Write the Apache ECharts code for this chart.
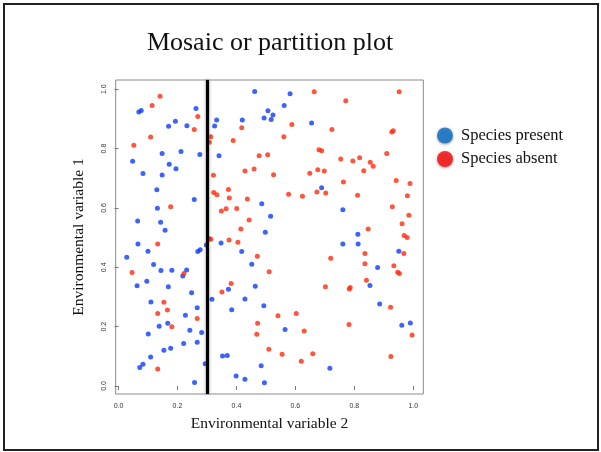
<!DOCTYPE html>
<html>
<head>
<meta charset="utf-8">
<script src="https://cdn.jsdelivr.net/npm/echarts@6/dist/echarts.min.js"></script>
<style>
html,body{margin:0;padding:0;background:#fff;}
#chart{width:601px;height:452px;}
</style>
</head>
<body>
<div id="chart"></div>
<script>
// ---- Data ----
var chartTitle = 'Mosaic or partition plot';
var xAxisTitle = 'Environmental variable 2';
var yAxisTitle = 'Environmental variable 1';
var seriesNames = ['Species present', 'Species absent'];
var tickValues = [0, 0.2, 0.4, 0.6, 0.8, 1.0];
var tickLabels = ['0.0', '0.2', '0.4', '0.6', '0.8', '1.0'];
var partitionX = 0.3;

var speciesPresent = [
  [0.069,0.923],[0.077,0.928],[0.263,0.935],[0.193,0.892],[0.170,0.875],[0.232,0.877],
  [0.148,0.783],[0.212,0.790],[0.276,0.780],[0.048,0.757],[0.172,0.747],[0.195,0.732],
  [0.083,0.716],[0.148,0.711],[0.130,0.661],[0.462,0.992],[0.582,0.985],[0.562,0.945],
  [0.507,0.927],[0.524,0.913],[0.494,0.903],[0.518,0.898],[0.333,0.896],[0.420,0.896],
  [0.326,0.876],[0.341,0.776],[0.655,0.886],[0.689,0.668],[0.257,0.628],[0.132,0.599],
  [0.065,0.556],[0.143,0.552],[0.158,0.525],[0.066,0.478],[0.100,0.454],[0.028,0.434],
  [0.277,0.459],[0.269,0.453],[0.298,0.475],[0.119,0.409],[0.144,0.389],[0.181,0.390],
  [0.231,0.391],[0.218,0.371],[0.063,0.338],[0.096,0.353],[0.169,0.334],[0.486,0.614],
  [0.516,0.572],[0.498,0.518],[0.348,0.482],[0.418,0.453],[0.452,0.410],[0.373,0.326],
  [0.464,0.336],[0.761,0.594],[0.812,0.511],[0.761,0.478],[0.813,0.478],[0.951,0.454],
  [0.879,0.399],[0.853,0.339],[0.248,0.314],[0.110,0.283],[0.267,0.264],[0.227,0.238],
  [0.167,0.211],[0.138,0.201],[0.242,0.188],[0.282,0.180],[0.101,0.175],[0.267,0.147],
  [0.221,0.143],[0.177,0.127],[0.154,0.120],[0.109,0.098],[0.083,0.073],[0.072,0.062],
  [0.294,0.075],[0.258,0.012],[0.317,0.292],[0.429,0.293],[0.493,0.270],[0.384,0.257],
  [0.565,0.190],[0.353,0.101],[0.369,0.103],[0.484,0.068],[0.399,0.034],[0.429,0.023],
  [0.495,0.011],[0.886,0.276],[0.961,0.205],[0.990,0.212],[0.717,0.060]
];

var speciesAbsent = [
  [0.141,0.976],[0.114,0.945],[0.269,0.908],[0.257,0.864],[0.109,0.839],[0.052,0.811],
  [0.313,0.840],[0.308,0.821],[0.418,0.870],[0.588,0.881],[0.561,0.840],[0.389,0.827],
  [0.477,0.776],[0.506,0.779],[0.429,0.724],[0.460,0.731],[0.322,0.710],[0.526,0.712],
  [0.649,0.717],[0.373,0.662],[0.664,0.991],[0.952,0.991],[0.771,0.961],[0.724,0.864],
  [0.927,0.856],[0.932,0.860],[0.680,0.796],[0.689,0.793],[0.910,0.783],[0.754,0.765],
  [0.818,0.769],[0.795,0.758],[0.854,0.754],[0.832,0.725],[0.864,0.740],[0.676,0.729],
  [0.698,0.724],[0.763,0.687],[0.942,0.692],[0.989,0.682],[0.177,0.604],[0.133,0.478],
  [0.046,0.382],[0.222,0.379],[0.308,0.496],[0.313,0.494],[0.323,0.652],[0.334,0.644],
  [0.376,0.633],[0.437,0.630],[0.577,0.646],[0.624,0.639],[0.349,0.590],[0.365,0.597],
  [0.401,0.598],[0.443,0.559],[0.415,0.529],[0.375,0.492],[0.405,0.484],[0.471,0.437],
  [0.511,0.385],[0.382,0.345],[0.673,0.654],[0.703,0.650],[0.811,0.643],[0.980,0.641],
  [0.929,0.604],[0.985,0.575],[0.962,0.547],[0.847,0.529],[0.969,0.507],[0.979,0.500],
  [0.836,0.446],[0.968,0.446],[0.720,0.430],[0.836,0.412],[0.934,0.405],[0.947,0.383],
  [0.953,0.379],[0.841,0.356],[0.702,0.334],[0.786,0.332],[0.783,0.327],[0.154,0.282],
  [0.133,0.244],[0.166,0.256],[0.267,0.227],[0.181,0.200],[0.133,0.057],[0.351,0.317],
  [0.541,0.237],[0.603,0.244],[0.472,0.211],[0.469,0.174],[0.630,0.185],[0.510,0.124],
  [0.555,0.107],[0.620,0.083],[0.923,0.265],[0.782,0.207],[0.996,0.172],[0.659,0.109],
  [0.924,0.099]
];

// ---- Chart ----
var chart = echarts.init(document.getElementById('chart'), null, {renderer: 'canvas'});
var serif = '"Liberation Serif", "DejaVu Serif", serif';
var tickFont = {fontFamily: '"Liberation Sans", Arial, sans-serif', fontSize: 7, color: '#333'};

var option = {
  animation: false,
  backgroundColor: '#fff',
  title: {
    text: chartTitle,
    left: 265, top: 25, textAlign: 'center',
    textStyle: {fontFamily: serif, fontSize: 26, fontWeight: 'normal', color: '#111'}
  },
  legend: {
    orient: 'vertical', left: 432, top: 122, itemWidth: 16, itemHeight: 16, itemGap: 6.5,
    icon: 'circle',
    data: [
      {name: seriesNames[0], itemStyle: {color: '#0a6fc8', shadowBlur: 3, shadowColor: 'rgba(0,0,0,0.45)', shadowOffsetY: 1}},
      {name: seriesNames[1], itemStyle: {color: '#ff0a0a', shadowBlur: 3, shadowColor: 'rgba(0,0,0,0.45)', shadowOffsetY: 1}}
    ],
    textStyle: {fontFamily: serif, fontSize: 16.5, color: '#111', lineHeight: 16, padding: [0, 0, 0, 3]}
  },
  grid: {
    left: 115.7, right: 601 - 423.3, top: 80, bottom: 452 - 394,
    show: true, borderColor: '#8a8a8a', borderWidth: 1, backgroundColor: 'transparent'
  },
  xAxis: {
    type: 'value', min: -0.0095, max: 1.034,
    name: xAxisTitle, nameLocation: 'middle', nameGap: 22,
    nameTextStyle: {fontFamily: serif, fontSize: 15.5, color: '#111'},
    axisLine: {show: false},
    splitLine: {show: false},
    axisTick: {show: true, inside: false, length: 4, customValues: tickValues, lineStyle: {color: '#777'}},
    axisLabel: {show: true, margin: 9, customValues: tickValues,
      formatter: function (v) { var i = tickValues.indexOf(v); return i >= 0 ? tickLabels[i] : ''; },
      fontFamily: tickFont.fontFamily, fontSize: tickFont.fontSize, color: tickFont.color}
  },
  yAxis: {
    type: 'value', min: -0.027, max: 1.031,
    name: yAxisTitle, nameLocation: 'middle', nameGap: 29, nameRotate: 90,
    nameTextStyle: {fontFamily: serif, fontSize: 15.5, color: '#111'},
    axisLine: {show: false},
    splitLine: {show: false},
    axisTick: {show: true, inside: false, length: 4, customValues: tickValues, lineStyle: {color: '#777'}},
    axisLabel: {show: true, margin: 8, rotate: 90, customValues: tickValues,
      formatter: function (v) { var i = tickValues.indexOf(v); return i >= 0 ? tickLabels[i] : ''; },
      fontFamily: tickFont.fontFamily, fontSize: tickFont.fontSize, color: tickFont.color}
  },
  series: [
    {
      name: seriesNames[0], type: 'scatter', data: speciesPresent, symbol: 'circle', symbolSize: 5,
      itemStyle: {color: '#0c3cf6'}, z: 3,
      markLine: {
        silent: true, symbol: 'none', animation: false,
        label: {show: false},
        lineStyle: {color: '#000', width: 3, type: 'solid', shadowBlur: 3, shadowColor: 'rgba(0,0,0,0.55)'},
        emphasis: {disabled: true},
        data: [{xAxis: partitionX}]
      }
    },
    {
      name: seriesNames[1], type: 'scatter', data: speciesAbsent, symbol: 'circle', symbolSize: 5,
      itemStyle: {color: '#ff2a0c'}, z: 3
    }
  ],
  graphic: [
    {type: 'rect', silent: true, z: 100,
     shape: {x: 4, y: 4, width: 594, height: 446},
     style: {fill: 'none', stroke: '#222', lineWidth: 2}}
  ]
};
chart.setOption(option);
</script>
</body>
</html>
